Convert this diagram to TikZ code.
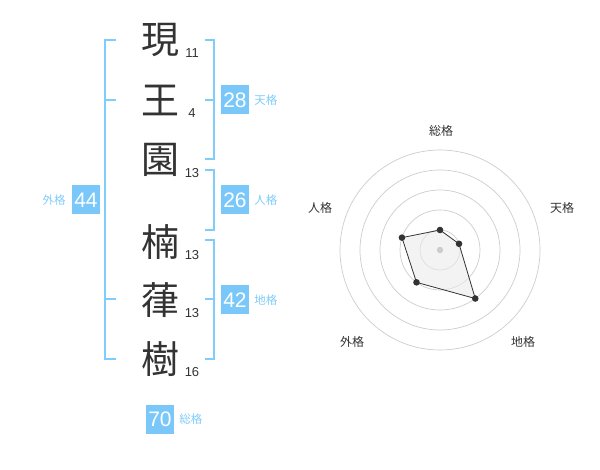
\documentclass[tikz,border=0pt]{standalone}
\usepackage{fontspec}
\setmainfont{Liberation Sans}
\newfontfamily\jp{Noto Sans CJK JP}
\definecolor{brblue}{RGB}{128,204,250}
\definecolor{boxblue}{RGB}{122,200,250}
\definecolor{inkgray}{RGB}{51,51,51}
\definecolor{ringgray}{RGB}{204,204,204}
\definecolor{polyfill}{RGB}{235,235,235}
\tikzset{
  kanji/.style={inner sep=0pt, text=inkgray, font=\jp\fontsize{38}{38}\selectfont},
  stroke/.style={inner sep=0pt, text=inkgray, font=\fontsize{13}{13}\selectfont},
  score/.style={fill=boxblue, text=white, minimum width=28, minimum height=29, inner sep=0pt, font=\fontsize{21}{21}\selectfont},
  kaku/.style={inner sep=0pt, text=brblue, font=\jp\fontsize{11.5}{11.5}\selectfont},
  bracket/.style={draw=brblue, line width=2},
  axislab/.style={inner sep=0pt, text=inkgray, font=\jp\fontsize{12}{12}\selectfont},
}
\begin{document}
\begin{tikzpicture}[x=1pt, y=-1pt]
  \useasboundingbox (0,0) rectangle (600,470);
  % name characters and stroke counts
  \foreach \ch/\n/\y/\k in {現/11/40/1,王/4/100/2,園/13/160/3,楠/13/242/4,葎/13/300/5,樹/16/359/6} {
    \node[kanji] (k\k) at (160,\y) {\ch};
    \node[stroke, anchor=base] (n\k) at (192,\y+18) {\n};
  }
  % brackets
  \draw[bracket] (116,40) -- (105,40) -- (105,359) -- (116,359);
  \draw[bracket] (105,100) -- (116,100);
  \draw[bracket] (105,299) -- (116,299);
  \draw[bracket] (205,40) -- (214,40) -- (214,159) -- (205,159);
  \draw[bracket] (205,100) -- (214,100);
  \draw[bracket] (205,170) -- (214,170) -- (214,230) -- (205,230);
  \draw[bracket] (205,240) -- (214,240) -- (214,359) -- (205,359);
  \draw[bracket] (205,299) -- (214,299);
  % scores
  \node[score] (ten) at (235,100) {28};
  \node[kaku, anchor=west] (tenlab) at (ten.east) [xshift=5] {天格};
  \node[score] (jin) at (235,200) {26};
  \node[kaku, anchor=west] (jinlab) at (jin.east) [xshift=5] {人格};
  \node[score] (chi) at (235,300) {42};
  \node[kaku, anchor=west] (chilab) at (chi.east) [xshift=5] {地格};
  \node[score] (gai) at (86,200) {44};
  \node[kaku, anchor=east] (gailab) at (gai.west) [xshift=-6] {外格};
  \node[score] (sou) at (160,419) {70};
  \node[kaku, anchor=west] (soulab) at (sou.east) [xshift=5] {総格};
  % radar chart
  \coordinate (c) at (440,250);
  \begin{scope}[shift={(c)}, y=1pt]
    \foreach \r in {20,40,60,80,100}
      \draw[ringgray, line width=0.7] (0,0) circle (\r);
    \fill[polyfill, fill opacity=0.6]
      (90:20) -- (18:20) -- (-54:60) -- (-126:40) -- (162:40) -- cycle;
    \fill[ringgray] (0,0) circle (3.2);
    \draw[inkgray, line width=0.8]
      (90:20) -- (18:20) -- (-54:60) -- (-126:40) -- (162:40) -- cycle;
    \foreach \a/\r in {90/20,18/20,-54/60,-126/40,162/40}
      \fill[inkgray] (\a:\r) circle (3.3);
  \end{scope}
  \node[axislab] (rsou) at (441,131) {総格};
  \node[axislab] (rten) at (562,208) {天格};
  \node[axislab] (rchi) at (523,342) {地格};
  \node[axislab] (rgai) at (352,342) {外格};
  \node[axislab] (rjin) at (320,208) {人格};
\end{tikzpicture}
\end{document}
